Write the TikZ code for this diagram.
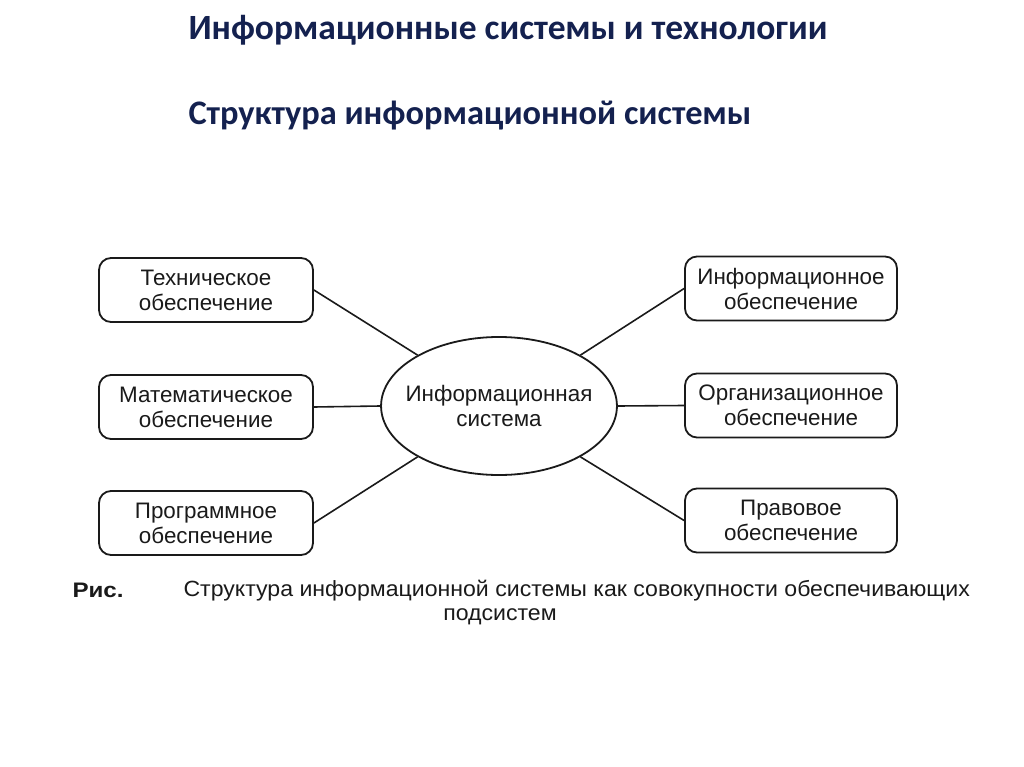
\documentclass[tikz,border=0pt]{standalone}
\usepackage{fontspec}
\setmainfont{Liberation Sans}
\newfontfamily\titlefont{Carlito}
\newfontfamily\capfont{Liberation Sans}[FakeStretch=1.05]
\newfontfamily\risfont{Liberation Sans}[FakeStretch=1.15]
\usetikzlibrary{shapes.geometric}
\definecolor{navy}{HTML}{14214F}
\definecolor{ink}{HTML}{1A1A1A}
\begin{document}
\begin{tikzpicture}[x=1pt,y=-1pt,
  box/.style={draw=ink, line width=1.8pt, rounded corners=12pt, minimum width=214pt, minimum height=64pt,
    inner sep=0pt, align=center, text=ink, font=\fontsize{22.4}{25}\selectfont},
  oval/.style={draw=ink, ellipse, line width=1.8pt, minimum width=232pt, minimum height=138pt,
    inner xsep=-10pt, inner ysep=0pt, align=center, text=ink, font=\fontsize{22.4}{25}\selectfont},
  conn/.style={draw=ink, line width=1.6pt},
  ttl/.style={anchor=base west, text=navy},
  capt/.style={text=ink, font=\capfont\fontsize{22}{25}\selectfont}]
\fill[white] (0,0) rectangle (1024,767);
\useasboundingbox (0,0) rectangle (1024,767);

\node[ttl, font=\titlefont\bfseries\fontsize{35.5}{40}\selectfont] (t1) at (185,40) {Информационные системы и технологии};
\node[ttl, font=\titlefont\bfseries\fontsize{34.4}{40}\selectfont] (t2) at (185,125) {Структура информационной системы};

\node[oval] (is) at (499,406) {Информационная\\система};

\node[box] (tech) at (206,290) {Техническое\\обеспечение};
\node[box] (math) at (206,407) {Математическое\\обеспечение};
\node[box] (prog) at (206,523) {Программное\\обеспечение};

\node[box, minimum width=212pt] (info) at (791,288.5) {Информационное\\обеспечение};
\node[box, minimum width=212pt] (org) at (791,405.5) {Организационное\\обеспечение};
\node[box, minimum width=212pt] (law) at (791,520.5) {Правовое\\обеспечение};

\draw[conn] (tech.east) -- (is.148);
\draw[conn] (math.east) -- (is.west);
\draw[conn] (prog.east) -- (is.212);
\draw[conn] (is.32) -- (info.west);
\draw[conn] (is.east) -- (org.west);
\draw[conn] (is.-32) -- (law.west);

\node[capt, anchor=base west, font=\risfont\bfseries\fontsize{21}{24}\selectfont] (ris) at (69,597) {Рис.};
\node[capt, anchor=base west] (cap1) at (180,596) {Структура информационной системы как совокупности обеспечивающих};
\node[capt, anchor=base] (cap2) at (500,620) {подсистем};
\end{tikzpicture}
\end{document}
